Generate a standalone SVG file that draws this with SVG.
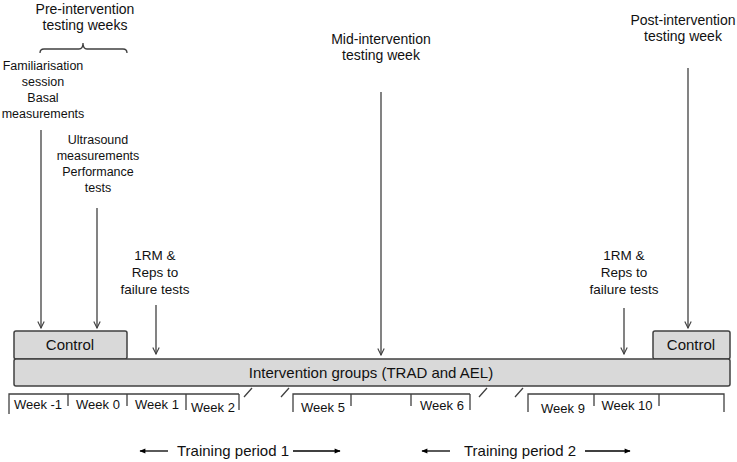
<svg xmlns="http://www.w3.org/2000/svg" width="737" height="462" viewBox="0 0 737 462">
<defs>
<marker id="ah" viewBox="0 0 10 10" refX="9" refY="5" markerWidth="8" markerHeight="8" markerUnits="userSpaceOnUse" orient="auto">
<path d="M1,1 L9,5 L1,9" fill="none" stroke="#404040" stroke-width="1.4"/>
</marker>
<marker id="fh" viewBox="0 0 10 10" refX="9" refY="5" markerWidth="8" markerHeight="6" markerUnits="userSpaceOnUse" orient="auto">
<path d="M0,1 L10,5 L0,9 Z" fill="#000"/>
</marker>
</defs>
<style>
text{font-family:"Liberation Sans",Arial,sans-serif;font-size:13px;fill:#111;text-anchor:middle}
.hd{font-size:14px}
.sm{font-size:12.5px}
.rm{font-size:13.5px}
.lg{font-size:15px}
.box{fill:#d9d9d9;stroke:#404040;stroke-width:1.5}
.ln{stroke:#404040;stroke-width:1.3;fill:none}
.arr{stroke:#404040;stroke-width:1.3;fill:none;marker-end:url(#ah)}
.tp{stroke:#000;stroke-width:1.3;fill:none;marker-end:url(#fh)}
</style>
<rect width="737" height="462" fill="#fff"/>
<g id="control-left">
<rect class="box" x="14" y="331" width="113" height="28" rx="2"/>
<text class="lg" x="70" y="350">Control</text>
</g>
<g id="control-right">
<rect class="box" x="653" y="331" width="77" height="28" rx="2"/>
<text class="lg" x="691" y="350">Control</text>
</g>
<g id="intervention">
<rect class="box" x="14" y="359" width="716" height="27" rx="2"/>
<text class="lg" x="371" y="378">Intervention groups (TRAD and AEL)</text>
</g>
<g id="pre-label">
<text class="hd" x="85" y="14">Pre-intervention</text>
<text class="hd" x="85" y="30">testing weeks</text>
<path class="ln" d="M40,53 Q40,49 44,49 L79,49 Q83,49 83,43 Q83,49 87,49 L123,49 Q127,49 127,53"/>
</g>
<g id="familiarisation">
<text class="sm" x="43" y="70">Familiarisation</text>
<text class="sm" x="43" y="86">session</text>
<text class="sm" x="43" y="102">Basal</text>
<text class="sm" x="43" y="118">measurements</text>
</g>
<g id="ultrasound">
<text class="sm" x="98" y="144">Ultrasound</text>
<text class="sm" x="98" y="160">measurements</text>
<text class="sm" x="98" y="176">Performance</text>
<text class="sm" x="98" y="192">tests</text>
</g>
<g id="rm1">
<text class="rm" x="155" y="260">1RM &amp;</text>
<text class="rm" x="155" y="277">Reps to</text>
<text class="rm" x="155" y="294">failure tests</text>
</g>
<g id="mid-label">
<text class="hd" x="381" y="44">Mid-intervention</text>
<text class="hd" x="381" y="60">testing week</text>
</g>
<g id="rm2">
<text class="rm" x="624" y="260">1RM &amp;</text>
<text class="rm" x="624" y="277">Reps to</text>
<text class="rm" x="624" y="294">failure tests</text>
</g>
<g id="post-label">
<text class="hd" x="683" y="25">Post-intervention</text>
<text class="hd" x="683" y="41">testing week</text>
</g>
<g id="timeline">
<path class="ln" d="M9,414 L9,394 L239,394 M68,394 L68,406 M127,394 L127,406 M186,394 L186,410 M239,394 L239,410"/>
<path class="ln" d="M244,397 L252,388 M281,397 L289,388"/>
<path class="ln" d="M293,412 L293,394 L470,394 M351,394 L351,406 M411,394 L411,406 M470,394 L470,410"/>
<path class="ln" d="M479,397 L487,388 M515,397 L523,388"/>
<path class="ln" d="M528,412 L528,394 L724,394 L724,412 M594,394 L594,406 M659,394 L659,406"/>
<text x="38" y="409">Week -1</text>
<text x="98" y="409">Week 0</text>
<text x="157" y="409">Week 1</text>
<text x="213" y="412">Week 2</text>
<text x="323" y="412">Week 5</text>
<text x="442" y="410">Week 6</text>
<text x="563" y="413">Week 9</text>
<text x="627" y="410">Week 10</text>
</g>
<g id="periods">
<text class="lg" x="233" y="456">Training period 1</text>
<text class="lg" x="520" y="456">Training period 2</text>
</g>
<g id="connectors">
<path class="arr" d="M41,130 L41,328"/>
<path class="arr" d="M97,208 L97,328"/>
<path class="arr" d="M156,305 L156,354"/>
<path class="arr" d="M381,92 L381,355"/>
<path class="arr" d="M624,308 L624,354"/>
<path class="arr" d="M688,68 L688,328"/>
<path class="tp" d="M168,451 L140,451"/>
<path class="tp" d="M293,451 L340,451"/>
<path class="tp" d="M450,451 L422,451"/>
<path class="tp" d="M585,451 L630,451"/>
</g>
</svg>
